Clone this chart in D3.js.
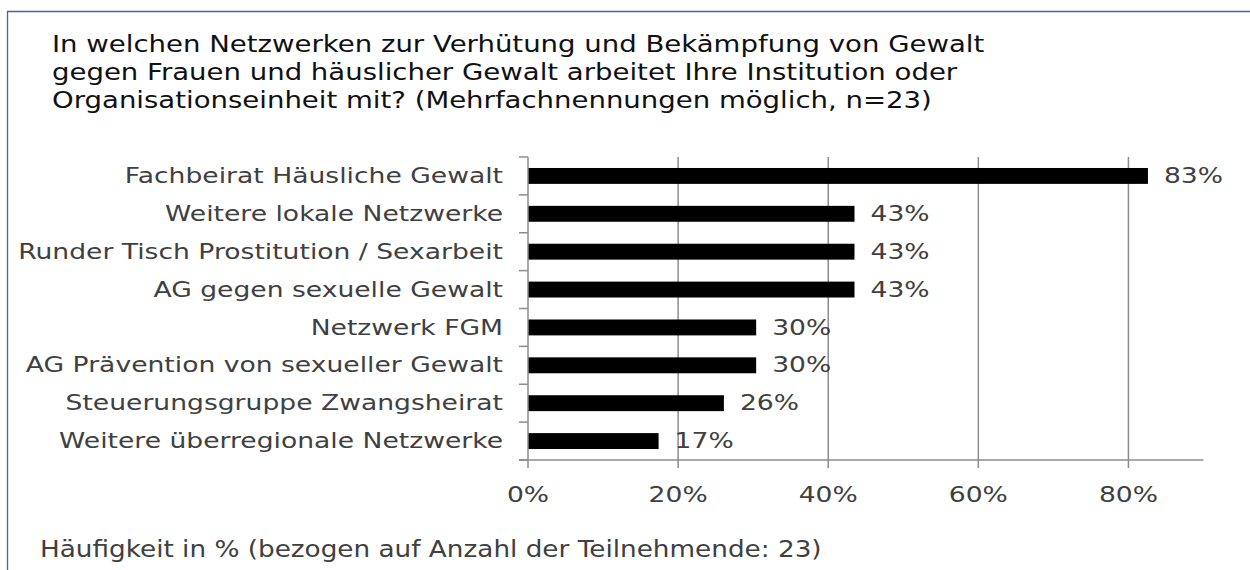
<!DOCTYPE html>
<html><head><meta charset="utf-8">
<script src="https://cdn.jsdelivr.net/npm/d3@7"></script>
<style>
html,body{margin:0;padding:0;background:#fff;}
svg{display:block;}
text{font-family:"DejaVu Sans",sans-serif;}
</style></head>
<body>
<script>
const categories = [
  "Fachbeirat Häusliche Gewalt",
  "Weitere lokale Netzwerke",
  "Runder Tisch Prostitution / Sexarbeit",
  "AG gegen sexuelle Gewalt",
  "Netzwerk FGM",
  "AG Prävention von sexueller Gewalt",
  "Steuerungsgruppe Zwangsheirat",
  "Weitere überregionale Netzwerke"
];
const values = [82.6, 43.5, 43.5, 43.5, 30.4, 30.4, 26.1, 17.4];
const valueLabels = ["83%", "43%", "43%", "43%", "30%", "30%", "26%", "17%"];
const xTicks = [0, 20, 40, 60, 80];
const titleLines = [
  "In welchen Netzwerken zur Verhütung und Bekämpfung von Gewalt",
  "gegen Frauen und häuslicher Gewalt arbeitet Ihre Institution oder",
  "Organisationseinheit mit? (Mehrfachnennungen möglich, n=23)"
];
const footer = "Häufigkeit in % (bezogen auf Anzahl der Teilnehmende: 23)";

const W = 1250, H = 570;
const svg = d3.select("body").append("svg").attr("width", W).attr("height", H);

// frame
svg.append("line").attr("x1",7).attr("x2",W).attr("y1",11.5).attr("y2",11.5).attr("stroke","#4a62ab").attr("stroke-width",1.3);
svg.append("line").attr("x1",7.5).attr("x2",7.5).attr("y1",11).attr("y2",H).attr("stroke","#4a62ab").attr("stroke-width",1.3);

// horizontal stretch factor so a text node reaches a target width
function stretchFor(node, target){
  return target / node.getComputedTextLength();
}
function place(sel, fx, fy, sx){
  sel.attr("transform", (d,i) => `translate(${fx(d,i)},${fy(d,i)}) scale(${sx},1)`);
}

const TCOL = "#111", LCOL = "#404040";

// title
const tl = svg.append("g").selectAll("text").data(titleLines).join("text")
  .attr("font-size", 22.5).attr("fill", TCOL).text(d=>d);
const tsx = stretchFor(tl.nodes()[0], 933);
place(tl, ()=>52, (d,i)=>52 + i*28, tsx);

const x = d3.scaleLinear().domain([0, 90]).range([528, 1203.5]);
const y = d3.scaleBand().domain(categories).range([157, 460]).paddingInner(0.58).paddingOuter(0.29);
const gridColor = "#8c8c8c";

// gridlines
svg.append("g").selectAll("line").data(xTicks.filter(t=>t>0)).join("line")
  .attr("x1", d=>x(d)).attr("x2", d=>x(d)).attr("y1", 157).attr("y2", 468)
  .attr("stroke", gridColor).attr("stroke-width", 1.5);

// bars
svg.append("g").selectAll("rect").data(values).join("rect")
  .attr("x", x(0)).attr("y", (d,i)=>y(categories[i]))
  .attr("width", d=>x(d)-x(0)).attr("height", y.bandwidth())
  .attr("fill", "#000");

// y axis line + band boundary ticks
const step = y.step();
const bounds = d3.range(categories.length + 1).map(i => 157 + i*step);
svg.append("line").attr("x1", x(0)).attr("x2", x(0)).attr("y1", 157).attr("y2", 468)
  .attr("stroke", gridColor).attr("stroke-width", 1.5);
svg.append("g").selectAll("line").data(bounds).join("line")
  .attr("x1", 519).attr("x2", x(0)).attr("y1", d=>d).attr("y2", d=>d)
  .attr("stroke", gridColor).attr("stroke-width", 1.5);
// x axis line
svg.append("line").attr("x1", 519).attr("x2", x(90)).attr("y1", 460).attr("y2", 460)
  .attr("stroke", gridColor).attr("stroke-width", 1.5);

const LFS = 20.5;
// category labels
const cl = svg.append("g").selectAll("text").data(categories).join("text")
  .attr("text-anchor", "end").attr("dy", "0.35em")
  .attr("font-size", LFS).attr("fill", LCOL).text(d=>d);
const lsx = stretchFor(cl.nodes()[2], 485);
place(cl, ()=>503, d=>y(d)+y.bandwidth()/2, lsx);

// value labels
const vl = svg.append("g").selectAll("text").data(values).join("text")
  .attr("dy", "0.35em").attr("font-size", LFS).attr("fill", LCOL).text((d,i)=>valueLabels[i]);
place(vl, d=>x(d)+16, (d,i)=>y(categories[i])+y.bandwidth()/2, lsx);

// x tick labels
const xl = svg.append("g").selectAll("text").data(xTicks).join("text")
  .attr("text-anchor", "middle").attr("font-size", LFS).attr("fill", LCOL).text(d=>d + "%");
place(xl, d=>x(d), ()=>502, lsx);

// footer
const ft = svg.append("g").selectAll("text").data([footer]).join("text")
  .attr("font-size", 22.5).attr("fill", LCOL).text(d=>d);
place(ft, ()=>40, ()=>557, stretchFor(ft.node(), 782));
</script>
</body></html>
